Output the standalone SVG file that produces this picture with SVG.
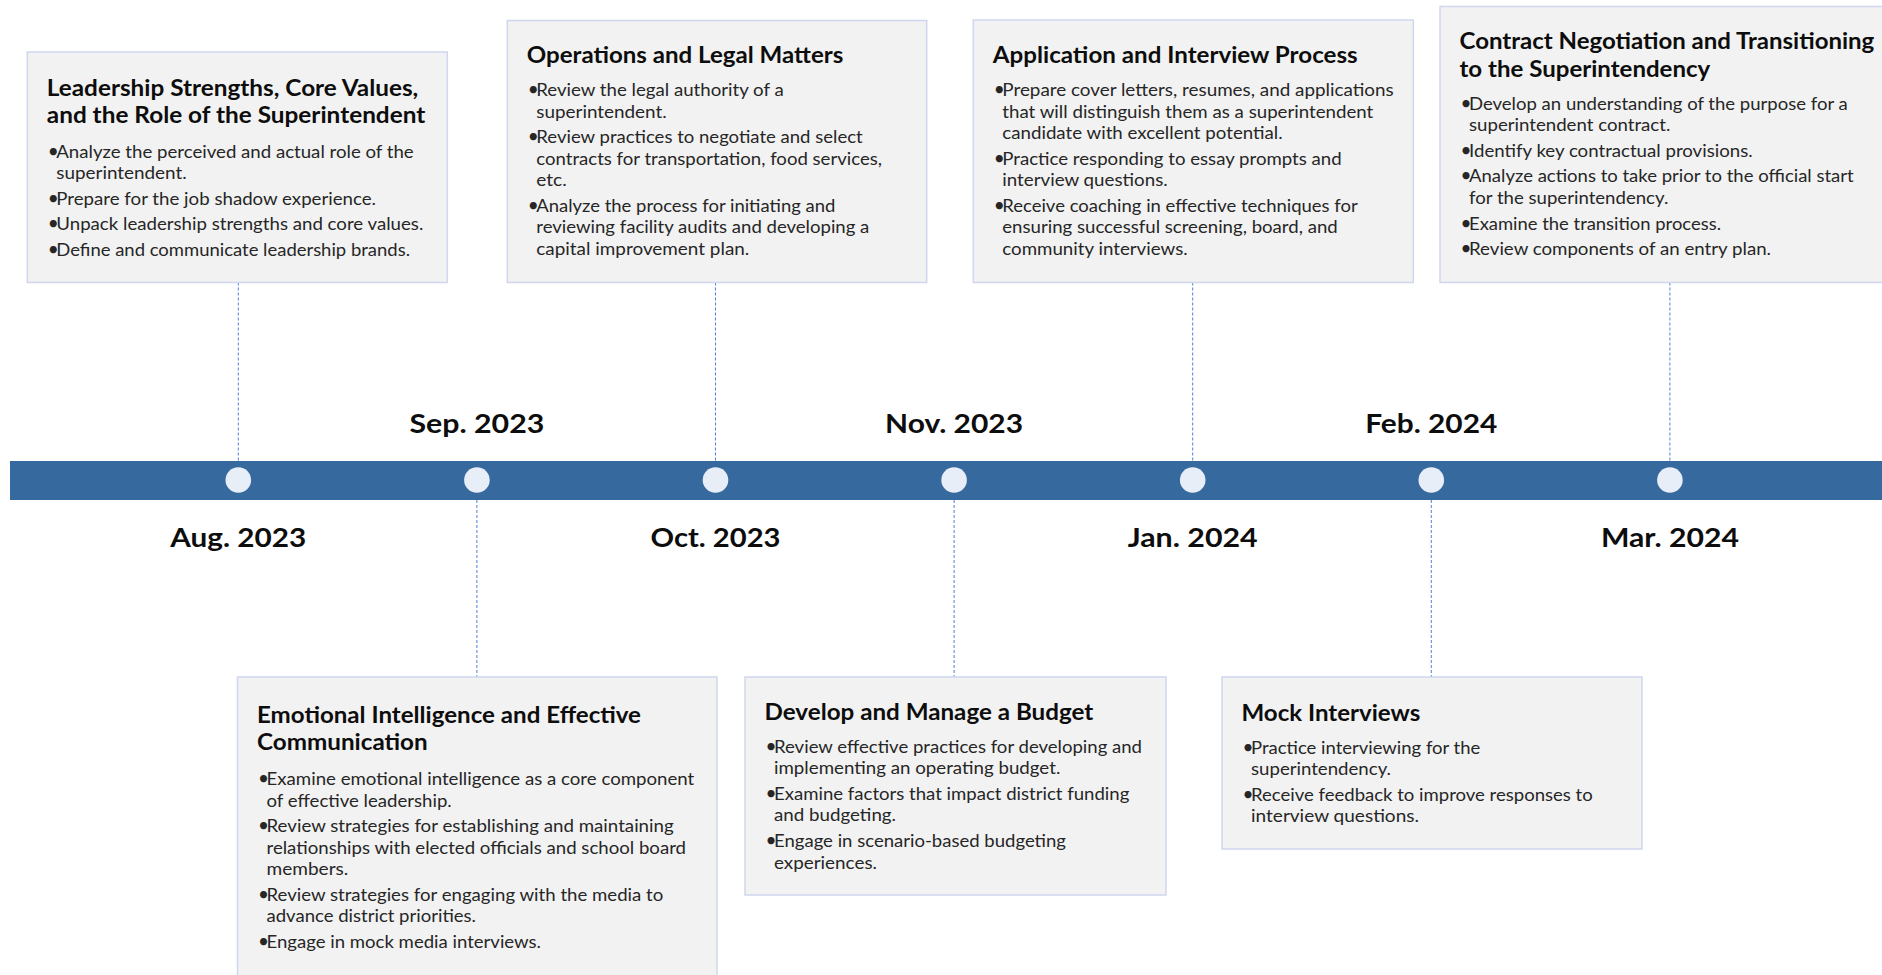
<svg xmlns="http://www.w3.org/2000/svg" width="1882" height="975" viewBox="0 0 1882 975">
  <style>
    .box { fill: #F2F2F2; stroke: #CFD7EE; stroke-width: 1.5; }
    .title { font-family: Lato, "Liberation Sans", sans-serif; font-weight: 700; font-size: 22px; fill: #0D0D0D; }
    .body { font-family: Lato, "Liberation Sans", sans-serif; font-size: 17px; fill: #262626; }
    .b { font-size: 19px; }
    .date { font-family: Lato, "Liberation Sans", sans-serif; font-weight: 700; font-size: 26.5px; fill: #0D0D0D; text-anchor: middle; }
    .conn { stroke: #4F7FD6; stroke-width: 1; stroke-dasharray: 3 2; fill: none; }
    .bar { fill: #366A9F; }
    .dot { fill: #E8EEF7; }
  </style>

  <rect width="1882" height="975" fill="#FFFFFF"/>

  <!-- dashed leaders from each card to its point on the timeline -->
  <g id="connectors">
    <line class="conn" x1="238.3" y1="282.5" x2="238.3" y2="461"/>
    <line class="conn" x1="715.5" y1="282.5" x2="715.5" y2="461"/>
    <line class="conn" x1="1192.7" y1="282.5" x2="1192.7" y2="461"/>
    <line class="conn" x1="1669.9" y1="282.5" x2="1669.9" y2="461"/>
    <line class="conn" x1="476.9" y1="500" x2="476.9" y2="677"/>
    <line class="conn" x1="954.1" y1="500" x2="954.1" y2="677"/>
    <line class="conn" x1="1431.3" y1="500" x2="1431.3" y2="677"/>
  </g>

  <!-- timeline band, month points and month labels -->
  <g id="timeline">
    <rect class="bar" x="10" y="461" width="1872" height="39"/>
    <circle class="dot" cx="238.3" cy="480" r="12.8"/>
    <circle class="dot" cx="476.9" cy="480" r="12.8"/>
    <circle class="dot" cx="715.5" cy="480" r="12.8"/>
    <circle class="dot" cx="954.1" cy="480" r="12.8"/>
    <circle class="dot" cx="1192.7" cy="480" r="12.8"/>
    <circle class="dot" cx="1431.3" cy="480" r="12.8"/>
    <circle class="dot" cx="1669.9" cy="480" r="12.8"/>
    <text class="date" x="238.3" y="546.7" textLength="136" lengthAdjust="spacingAndGlyphs">Aug. 2023</text>
    <text class="date" x="476.9" y="432.7" textLength="135" lengthAdjust="spacingAndGlyphs">Sep. 2023</text>
    <text class="date" x="715.5" y="546.7" textLength="130" lengthAdjust="spacingAndGlyphs">Oct. 2023</text>
    <text class="date" x="954.1" y="432.7" textLength="138" lengthAdjust="spacingAndGlyphs">Nov. 2023</text>
    <text class="date" x="1192.7" y="546.7" textLength="130" lengthAdjust="spacingAndGlyphs">Jan. 2024</text>
    <text class="date" x="1431.3" y="432.7" textLength="132" lengthAdjust="spacingAndGlyphs">Feb. 2024</text>
    <text class="date" x="1669.9" y="546.7" textLength="138" lengthAdjust="spacingAndGlyphs">Mar. 2024</text>
  </g>

  <!-- Aug. 2023 -->
  <g id="node-leadership">
    <rect class="box" x="27.3" y="52" width="420" height="230.5"/>
    <text class="title" x="46.8" y="96" textLength="371.5" lengthAdjust="spacingAndGlyphs">Leadership Strengths, Core Values,</text>
    <text class="title" x="46.8" y="123.3" textLength="378.5" lengthAdjust="spacingAndGlyphs">and the Role of the Superintendent</text>
    <text class="body" y="157.5"><tspan class="b" x="47.8">•</tspan><tspan x="56.3" textLength="357.4" lengthAdjust="spacingAndGlyphs">Analyze the perceived and actual role of the</tspan></text>
    <text class="body" x="56.3" y="179" textLength="130.4" lengthAdjust="spacingAndGlyphs">superintendent.</text>
    <text class="body" y="204.5"><tspan class="b" x="47.8">•</tspan><tspan x="56.3" textLength="319.7" lengthAdjust="spacingAndGlyphs">Prepare for the job shadow experience.</tspan></text>
    <text class="body" y="230"><tspan class="b" x="47.8">•</tspan><tspan x="56.3" textLength="367" lengthAdjust="spacingAndGlyphs">Unpack leadership strengths and core values.</tspan></text>
    <text class="body" y="255.5"><tspan class="b" x="47.8">•</tspan><tspan x="56.3" textLength="353.7" lengthAdjust="spacingAndGlyphs">Define and communicate leadership brands.</tspan></text>
  </g>

  <!-- Sep. 2023 -->
  <g id="node-emotional">
    <rect class="box" x="237.5" y="677" width="479.5" height="320"/>
    <text class="title" x="257" y="722.5" textLength="384" lengthAdjust="spacingAndGlyphs">Emotional Intelligence and Effective</text>
    <text class="title" x="257" y="750" textLength="170.7" lengthAdjust="spacingAndGlyphs">Communication</text>
    <text class="body" y="785"><tspan class="b" x="258">•</tspan><tspan x="266.5" textLength="427.8" lengthAdjust="spacingAndGlyphs">Examine emotional intelligence as a core component</tspan></text>
    <text class="body" x="266.5" y="806.6" textLength="185.2" lengthAdjust="spacingAndGlyphs">of effective leadership.</text>
    <text class="body" y="832.1"><tspan class="b" x="258">•</tspan><tspan x="266.5" textLength="407.2" lengthAdjust="spacingAndGlyphs">Review strategies for establishing and maintaining</tspan></text>
    <text class="body" x="266.5" y="853.7" textLength="419.5" lengthAdjust="spacingAndGlyphs">relationships with elected officials and school board</text>
    <text class="body" x="266.5" y="875.3" textLength="81.8" lengthAdjust="spacingAndGlyphs">members.</text>
    <text class="body" y="900.8"><tspan class="b" x="258">•</tspan><tspan x="266.5" textLength="396.8" lengthAdjust="spacingAndGlyphs">Review strategies for engaging with the media to</tspan></text>
    <text class="body" x="266.5" y="922.4" textLength="209.5" lengthAdjust="spacingAndGlyphs">advance district priorities.</text>
    <text class="body" y="947.9"><tspan class="b" x="258">•</tspan><tspan x="266.5" textLength="274.5" lengthAdjust="spacingAndGlyphs">Engage in mock media interviews.</tspan></text>
  </g>

  <!-- Oct. 2023 -->
  <g id="node-operations">
    <rect class="box" x="507.3" y="20.5" width="419.4" height="262"/>
    <text class="title" x="526.8" y="63.3" textLength="316.5" lengthAdjust="spacingAndGlyphs">Operations and Legal Matters</text>
    <text class="body" y="96"><tspan class="b" x="527.8">•</tspan><tspan x="536.3" textLength="247.4" lengthAdjust="spacingAndGlyphs">Review the legal authority of a</tspan></text>
    <text class="body" x="536.3" y="117.6" textLength="130.4" lengthAdjust="spacingAndGlyphs">superintendent.</text>
    <text class="body" y="143.1"><tspan class="b" x="527.8">•</tspan><tspan x="536.3" textLength="326.4" lengthAdjust="spacingAndGlyphs">Review practices to negotiate and select</tspan></text>
    <text class="body" x="536.3" y="164.7" textLength="345.7" lengthAdjust="spacingAndGlyphs">contracts for transportation, food services,</text>
    <text class="body" x="536.3" y="186.3" textLength="30.4" lengthAdjust="spacingAndGlyphs">etc.</text>
    <text class="body" y="211.8"><tspan class="b" x="527.8">•</tspan><tspan x="536.3" textLength="299" lengthAdjust="spacingAndGlyphs">Analyze the process for initiating and</tspan></text>
    <text class="body" x="536.3" y="233.4" textLength="333" lengthAdjust="spacingAndGlyphs">reviewing facility audits and developing a</text>
    <text class="body" x="536.3" y="255" textLength="213" lengthAdjust="spacingAndGlyphs">capital improvement plan.</text>
  </g>

  <!-- Nov. 2023 -->
  <g id="node-budget">
    <rect class="box" x="745" y="677" width="421" height="218"/>
    <text class="title" x="764.5" y="720" textLength="328.8" lengthAdjust="spacingAndGlyphs">Develop and Manage a Budget</text>
    <text class="body" y="752.7"><tspan class="b" x="765.5">•</tspan><tspan x="774" textLength="368" lengthAdjust="spacingAndGlyphs">Review effective practices for developing and</tspan></text>
    <text class="body" x="774" y="774.3" textLength="286.3" lengthAdjust="spacingAndGlyphs">implementing an operating budget.</text>
    <text class="body" y="799.8"><tspan class="b" x="765.5">•</tspan><tspan x="774" textLength="355.3" lengthAdjust="spacingAndGlyphs">Examine factors that impact district funding</tspan></text>
    <text class="body" x="774" y="821.4" textLength="122" lengthAdjust="spacingAndGlyphs">and budgeting.</text>
    <text class="body" y="846.9"><tspan class="b" x="765.5">•</tspan><tspan x="774" textLength="292" lengthAdjust="spacingAndGlyphs">Engage in scenario-based budgeting</tspan></text>
    <text class="body" x="774" y="868.5" textLength="103" lengthAdjust="spacingAndGlyphs">experiences.</text>
  </g>

  <!-- Jan. 2024 -->
  <g id="node-application">
    <rect class="box" x="973.3" y="20" width="440" height="262.5"/>
    <text class="title" x="992.8" y="63.3" textLength="364.9" lengthAdjust="spacingAndGlyphs">Application and Interview Process</text>
    <text class="body" y="96"><tspan class="b" x="993.8">•</tspan><tspan x="1002.3" textLength="391.4" lengthAdjust="spacingAndGlyphs">Prepare cover letters, resumes, and applications</tspan></text>
    <text class="body" x="1002.3" y="117.6" textLength="371" lengthAdjust="spacingAndGlyphs">that will distinguish them as a superintendent</text>
    <text class="body" x="1002.3" y="139.2" textLength="280.4" lengthAdjust="spacingAndGlyphs">candidate with excellent potential.</text>
    <text class="body" y="164.7"><tspan class="b" x="993.8">•</tspan><tspan x="1002.3" textLength="339.4" lengthAdjust="spacingAndGlyphs">Practice responding to essay prompts and</tspan></text>
    <text class="body" x="1002.3" y="186.3" textLength="165.4" lengthAdjust="spacingAndGlyphs">interview questions.</text>
    <text class="body" y="211.8"><tspan class="b" x="993.8">•</tspan><tspan x="1002.3" textLength="355.4" lengthAdjust="spacingAndGlyphs">Receive coaching in effective techniques for</tspan></text>
    <text class="body" x="1002.3" y="233.4" textLength="335.4" lengthAdjust="spacingAndGlyphs">ensuring successful screening, board, and</text>
    <text class="body" x="1002.3" y="255" textLength="185.4" lengthAdjust="spacingAndGlyphs">community interviews.</text>
  </g>

  <!-- Feb. 2024 -->
  <g id="node-mock">
    <rect class="box" x="1222" y="677" width="420" height="172"/>
    <text class="title" x="1241.5" y="720.5" textLength="178.8" lengthAdjust="spacingAndGlyphs">Mock Interviews</text>
    <text class="body" y="753.5"><tspan class="b" x="1242.5">•</tspan><tspan x="1251" textLength="229.3" lengthAdjust="spacingAndGlyphs">Practice interviewing for the</tspan></text>
    <text class="body" x="1251" y="775" textLength="140" lengthAdjust="spacingAndGlyphs">superintendency.</text>
    <text class="body" y="800.5"><tspan class="b" x="1242.5">•</tspan><tspan x="1251" textLength="341.7" lengthAdjust="spacingAndGlyphs">Receive feedback to improve responses to</tspan></text>
    <text class="body" x="1251" y="822" textLength="168" lengthAdjust="spacingAndGlyphs">interview questions.</text>
  </g>

  <!-- Mar. 2024 -->
  <g id="node-contract">
    <rect class="box" x="1440" y="6.5" width="460" height="276"/>
    <text class="title" x="1459.5" y="49" textLength="414.8" lengthAdjust="spacingAndGlyphs">Contract Negotiation and Transitioning</text>
    <text class="title" x="1459.5" y="76.8" textLength="250.8" lengthAdjust="spacingAndGlyphs">to the Superintendency</text>
    <text class="body" y="109.8"><tspan class="b" x="1460.5">•</tspan><tspan x="1469" textLength="378.7" lengthAdjust="spacingAndGlyphs">Develop an understanding of the purpose for a</tspan></text>
    <text class="body" x="1469" y="131.4" textLength="201.3" lengthAdjust="spacingAndGlyphs">superintendent contract.</text>
    <text class="body" y="156.9"><tspan class="b" x="1460.5">•</tspan><tspan x="1469" textLength="283.7" lengthAdjust="spacingAndGlyphs">Identify key contractual provisions.</tspan></text>
    <text class="body" y="182.4"><tspan class="b" x="1460.5">•</tspan><tspan x="1469" textLength="384.7" lengthAdjust="spacingAndGlyphs">Analyze actions to take prior to the official start</tspan></text>
    <text class="body" x="1469" y="204" textLength="199.3" lengthAdjust="spacingAndGlyphs">for the superintendency.</text>
    <text class="body" y="229.5"><tspan class="b" x="1460.5">•</tspan><tspan x="1469" textLength="252" lengthAdjust="spacingAndGlyphs">Examine the transition process.</tspan></text>
    <text class="body" y="255"><tspan class="b" x="1460.5">•</tspan><tspan x="1469" textLength="302" lengthAdjust="spacingAndGlyphs">Review components of an entry plan.</tspan></text>
  </g>
</svg>
